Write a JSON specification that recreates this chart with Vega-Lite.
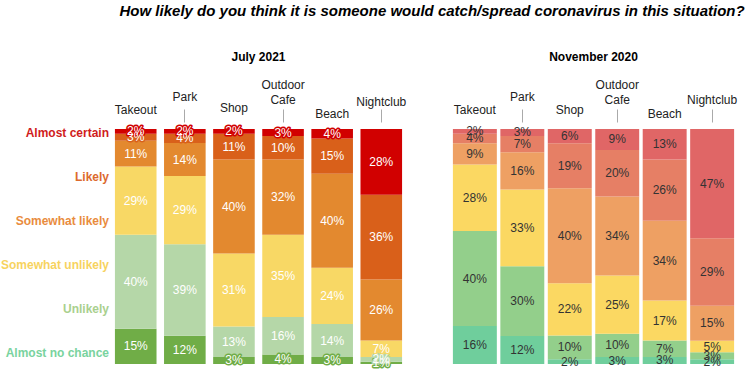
{
  "$schema": "https://vega.github.io/schema/vega-lite/v6.json",
  "padding": {"left": 0, "top": 4, "right": 5, "bottom": 0},
  "config": {"font": "Liberation Sans", "view": {"stroke": null}},
  "title": {"text": "How likely do you think it is someone would catch/spread coronavirus in this situation?", "fontSize": 15, "fontWeight": "bold", "fontStyle": "italic", "color": "#000000", "anchor": "end", "offset": 32, "dx": 8},
  "datasets": {
    "jul": [
      {"place": "Takeout", "level": "Almost no chance", "k": 1, "v": 0.15},
      {"place": "Takeout", "level": "Unlikely", "k": 2, "v": 0.40},
      {"place": "Takeout", "level": "Somewhat unlikely", "k": 3, "v": 0.29},
      {"place": "Takeout", "level": "Somewhat likely", "k": 4, "v": 0.11},
      {"place": "Takeout", "level": "Likely", "k": 5, "v": 0.03},
      {"place": "Takeout", "level": "Almost certain", "k": 6, "v": 0.02},
      {"place": "Park", "level": "Almost no chance", "k": 1, "v": 0.12},
      {"place": "Park", "level": "Unlikely", "k": 2, "v": 0.39},
      {"place": "Park", "level": "Somewhat unlikely", "k": 3, "v": 0.29},
      {"place": "Park", "level": "Somewhat likely", "k": 4, "v": 0.14},
      {"place": "Park", "level": "Likely", "k": 5, "v": 0.04},
      {"place": "Park", "level": "Almost certain", "k": 6, "v": 0.02},
      {"place": "Shop", "level": "Almost no chance", "k": 1, "v": 0.03},
      {"place": "Shop", "level": "Unlikely", "k": 2, "v": 0.13},
      {"place": "Shop", "level": "Somewhat unlikely", "k": 3, "v": 0.31},
      {"place": "Shop", "level": "Somewhat likely", "k": 4, "v": 0.40},
      {"place": "Shop", "level": "Likely", "k": 5, "v": 0.11},
      {"place": "Shop", "level": "Almost certain", "k": 6, "v": 0.02},
      {"place": "Outdoor Cafe", "level": "Almost no chance", "k": 1, "v": 0.04},
      {"place": "Outdoor Cafe", "level": "Unlikely", "k": 2, "v": 0.16},
      {"place": "Outdoor Cafe", "level": "Somewhat unlikely", "k": 3, "v": 0.35},
      {"place": "Outdoor Cafe", "level": "Somewhat likely", "k": 4, "v": 0.32},
      {"place": "Outdoor Cafe", "level": "Likely", "k": 5, "v": 0.10},
      {"place": "Outdoor Cafe", "level": "Almost certain", "k": 6, "v": 0.03},
      {"place": "Beach", "level": "Almost no chance", "k": 1, "v": 0.03},
      {"place": "Beach", "level": "Unlikely", "k": 2, "v": 0.14},
      {"place": "Beach", "level": "Somewhat unlikely", "k": 3, "v": 0.24},
      {"place": "Beach", "level": "Somewhat likely", "k": 4, "v": 0.40},
      {"place": "Beach", "level": "Likely", "k": 5, "v": 0.15},
      {"place": "Beach", "level": "Almost certain", "k": 6, "v": 0.04},
      {"place": "Nightclub", "level": "Almost no chance", "k": 1, "v": 0.01},
      {"place": "Nightclub", "level": "Unlikely", "k": 2, "v": 0.02},
      {"place": "Nightclub", "level": "Somewhat unlikely", "k": 3, "v": 0.07},
      {"place": "Nightclub", "level": "Somewhat likely", "k": 4, "v": 0.26},
      {"place": "Nightclub", "level": "Likely", "k": 5, "v": 0.36},
      {"place": "Nightclub", "level": "Almost certain", "k": 6, "v": 0.28}
    ],
    "nov": [
      {"place": "Takeout", "level": "Almost no chance", "k": 1, "v": 0.16},
      {"place": "Takeout", "level": "Unlikely", "k": 2, "v": 0.40},
      {"place": "Takeout", "level": "Somewhat unlikely", "k": 3, "v": 0.28},
      {"place": "Takeout", "level": "Somewhat likely", "k": 4, "v": 0.09},
      {"place": "Takeout", "level": "Likely", "k": 5, "v": 0.04},
      {"place": "Takeout", "level": "Almost certain", "k": 6, "v": 0.02},
      {"place": "Park", "level": "Almost no chance", "k": 1, "v": 0.12},
      {"place": "Park", "level": "Unlikely", "k": 2, "v": 0.30},
      {"place": "Park", "level": "Somewhat unlikely", "k": 3, "v": 0.33},
      {"place": "Park", "level": "Somewhat likely", "k": 4, "v": 0.16},
      {"place": "Park", "level": "Likely", "k": 5, "v": 0.07},
      {"place": "Park", "level": "Almost certain", "k": 6, "v": 0.03},
      {"place": "Shop", "level": "Almost no chance", "k": 1, "v": 0.02},
      {"place": "Shop", "level": "Unlikely", "k": 2, "v": 0.10},
      {"place": "Shop", "level": "Somewhat unlikely", "k": 3, "v": 0.22},
      {"place": "Shop", "level": "Somewhat likely", "k": 4, "v": 0.40},
      {"place": "Shop", "level": "Likely", "k": 5, "v": 0.19},
      {"place": "Shop", "level": "Almost certain", "k": 6, "v": 0.06},
      {"place": "Outdoor Cafe", "level": "Almost no chance", "k": 1, "v": 0.03},
      {"place": "Outdoor Cafe", "level": "Unlikely", "k": 2, "v": 0.10},
      {"place": "Outdoor Cafe", "level": "Somewhat unlikely", "k": 3, "v": 0.25},
      {"place": "Outdoor Cafe", "level": "Somewhat likely", "k": 4, "v": 0.34},
      {"place": "Outdoor Cafe", "level": "Likely", "k": 5, "v": 0.20},
      {"place": "Outdoor Cafe", "level": "Almost certain", "k": 6, "v": 0.09},
      {"place": "Beach", "level": "Almost no chance", "k": 1, "v": 0.03},
      {"place": "Beach", "level": "Unlikely", "k": 2, "v": 0.07},
      {"place": "Beach", "level": "Somewhat unlikely", "k": 3, "v": 0.17},
      {"place": "Beach", "level": "Somewhat likely", "k": 4, "v": 0.34},
      {"place": "Beach", "level": "Likely", "k": 5, "v": 0.26},
      {"place": "Beach", "level": "Almost certain", "k": 6, "v": 0.13},
      {"place": "Nightclub", "level": "Almost no chance", "k": 1, "v": 0.02},
      {"place": "Nightclub", "level": "Unlikely", "k": 2, "v": 0.03},
      {"place": "Nightclub", "level": "Somewhat unlikely", "k": 3, "v": 0.05},
      {"place": "Nightclub", "level": "Somewhat likely", "k": 4, "v": 0.15},
      {"place": "Nightclub", "level": "Likely", "k": 5, "v": 0.29},
      {"place": "Nightclub", "level": "Almost certain", "k": 6, "v": 0.47}
    ]
  },
  "spacing": 45,
  "hconcat": [
    {
      "spacing": 2,
      "bounds": "flush",
      "resolve": {"scale": {"color": "independent", "stroke": "independent"}},
      "hconcat": [
        {
          "width": 107,
          "height": 235,
          "data": {"name": "jul"},
          "transform": [{"filter": "datum.place == 'Takeout'"}],
          "mark": {"type": "text", "align": "right", "baseline": "middle", "fontSize": 12, "fontWeight": "bold"},
          "encoding": {
            "x": {"value": "width"},
            "y": {"field": "level", "type": "nominal", "axis": null,
                  "scale": {"type": "point", "domain": ["Almost certain", "Likely", "Somewhat likely", "Somewhat unlikely", "Unlikely", "Almost no chance"], "padding": 0.17, "align": 0.27}},
            "text": {"field": "level"},
            "color": {"field": "level", "type": "nominal", "legend": null,
                      "scale": {"domain": ["Almost certain", "Likely", "Somewhat likely", "Somewhat unlikely", "Unlikely", "Almost no chance"],
                                "range": ["#d01c1c", "#dc6a2e", "#e98c3e", "#f7d35f", "#a9d08e", "#79d39e"]}}
          }
        },
        {
          "width": 295,
          "height": 235,
          "title": {"text": "July 2021", "fontSize": 12, "fontWeight": "bold", "color": "#000000", "offset": 14},
          "data": {"name": "jul"},
          "encoding": {
            "x": {"field": "place", "type": "nominal",
                  "sort": ["Takeout", "Park", "Shop", "Outdoor Cafe", "Beach", "Nightclub"],
                  "scale": {"paddingInner": 0.153, "paddingOuter": 0.08},
                  "axis": {"orient": "top", "title": null, "domain": false, "offset": 7, "labelAngle": 0,
                           "labelFontSize": 12, "labelColor": "#222222", "labelLineHeight": 15, "labelOverlap": false,
                           "tickColor": "#aaaaaa", "tickWidth": 1,
                           "tickSize": {"condition": {"test": "indexof(['Park','Outdoor Cafe','Nightclub'], datum.value) >= 0", "value": 13}, "value": 0},
                           "labelPadding": {"condition": [
                             {"test": "datum.value == 'Shop'", "value": 8},
                             {"test": "datum.value == 'Outdoor Cafe'", "value": 18},
                             {"test": "datum.value == 'Beach'", "value": 2},
                             {"test": "datum.value == 'Nightclub'", "value": 1}
                           ], "value": 6},
                           "labelExpr": "datum.label == 'Outdoor Cafe' ? ['Outdoor', 'Cafe'] : datum.label"}},
            "y": {"field": "v", "type": "quantitative", "stack": "normalize", "axis": null},
            "order": {"field": "k", "type": "quantitative"}
          },
          "layer": [
            {
              "mark": {"type": "bar"},
              "encoding": {
                "color": {"field": "level", "type": "nominal", "legend": null,
                          "scale": {"domain": ["Almost no chance", "Unlikely", "Somewhat unlikely", "Somewhat likely", "Likely", "Almost certain"],
                                    "range": ["#70ad47", "#b5d7a8", "#f8d865", "#e3892f", "#d9601a", "#d10000"]}}
              }
            },
            {
              "mark": {"type": "text", "fontSize": 12, "baseline": "middle", "strokeWidth": 3, "strokeJoin": "round"},
              "encoding": {
                "y": {"field": "v", "type": "quantitative", "stack": "normalize", "axis": null, "bandPosition": 0.5},
                "text": {"field": "v", "type": "quantitative", "format": ".0%"},
                "color": {"field": "level", "type": "nominal", "legend": null},
                "stroke": {"field": "level", "type": "nominal", "legend": null,
                           "scale": {"domain": ["Almost no chance", "Unlikely", "Somewhat unlikely", "Somewhat likely", "Likely", "Almost certain"],
                                     "range": ["#70ad47", "#b5d7a8", "#f8d865", "#e3892f", "#d9601a", "#d10000"]}}
              }
            },
            {
              "mark": {"type": "text", "fontSize": 12, "baseline": "middle", "color": "#ffffff"},
              "encoding": {
                "y": {"field": "v", "type": "quantitative", "stack": "normalize", "axis": null, "bandPosition": 0.5},
                "text": {"field": "v", "type": "quantitative", "format": ".0%"}
              }
            }
          ]
        }
      ]
    },
    {
      "width": 285,
      "height": 235,
      "title": {"text": "November 2020", "fontSize": 12, "fontWeight": "bold", "color": "#000000", "offset": 14},
      "data": {"name": "nov"},
      "encoding": {
        "x": {"field": "place", "type": "nominal",
              "sort": ["Takeout", "Park", "Shop", "Outdoor Cafe", "Beach", "Nightclub"],
              "scale": {"paddingInner": 0.074, "paddingOuter": 0.04},
              "axis": {"orient": "top", "title": null, "domain": false, "offset": 7, "labelAngle": 0,
                       "labelFontSize": 12, "labelColor": "#222222", "labelLineHeight": 15, "labelOverlap": false,
                       "tickColor": "#aaaaaa", "tickWidth": 1,
                       "tickSize": {"condition": {"test": "indexof(['Park','Outdoor Cafe','Nightclub'], datum.value) >= 0", "value": 13}, "value": 0},
                       "labelPadding": {"condition": [
                         {"test": "datum.value == 'Outdoor Cafe'", "value": 18},
                         {"test": "datum.value == 'Beach'", "value": 2},
                         {"test": "datum.value == 'Nightclub'", "value": 3}
                       ], "value": 6},
                       "labelExpr": "datum.label == 'Outdoor Cafe' ? ['Outdoor', 'Cafe'] : datum.label"}},
        "y": {"field": "v", "type": "quantitative", "stack": "normalize", "axis": null},
        "order": {"field": "k", "type": "quantitative"}
      },
      "layer": [
        {
          "mark": {"type": "bar"},
          "encoding": {
            "color": {"field": "level", "type": "nominal", "legend": null,
                      "scale": {"domain": ["Almost no chance", "Unlikely", "Somewhat unlikely", "Somewhat likely", "Likely", "Almost certain"],
                                "range": ["#6fce9c", "#93cf8b", "#fbd862", "#eea063", "#e67f65", "#e06666"]}}
          }
        },
        {
          "mark": {"type": "text", "fontSize": 12, "baseline": "middle", "color": "#333333"},
          "encoding": {
            "y": {"field": "v", "type": "quantitative", "stack": "normalize", "axis": null, "bandPosition": 0.5},
            "text": {"field": "v", "type": "quantitative", "format": ".0%"}
          }
        }
      ]
    }
  ],
  "resolve": {"scale": {"color": "independent", "stroke": "independent"}}
}
